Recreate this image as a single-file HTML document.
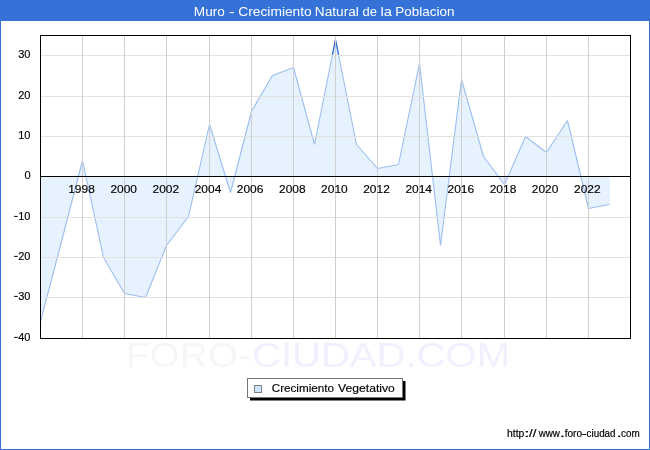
<!DOCTYPE html>
<html><head><meta charset="utf-8"><title>Muro - Crecimiento Natural de la Poblacion</title>
<style>
html,body{margin:0;padding:0;background:#fff;}
body{width:650px;height:450px;overflow:hidden;position:relative;font-family:"Liberation Sans",sans-serif;}
svg text{font-family:"Liberation Sans",sans-serif;}
</style></head><body>
<svg width="650" height="450" viewBox="0 0 650 450" style="position:absolute;left:0;top:0;display:block;will-change:transform;transform:translateZ(0)">
<rect x="0" y="0" width="650" height="450" fill="#ffffff"/>
<rect x="0" y="0" width="650" height="21" fill="#3472d8"/>
<rect x="0" y="0" width="1" height="450" fill="#3472d8"/>
<rect x="649" y="0" width="1" height="450" fill="#3472d8"/>
<rect x="0" y="449" width="650" height="1" fill="#3472d8"/>
<text x="125.82" y="367.3" font-size="35" textLength="124.90" lengthAdjust="spacingAndGlyphs" fill="#f6f6f8">FORO-</text>
<text x="251.97" y="367.3" font-size="35" textLength="258.02" lengthAdjust="spacingAndGlyphs" fill="#f0f0ff">CIUDAD.COM</text>
<clipPath id="cp"><rect x="40" y="35" width="591" height="304"/></clipPath>
<g clip-path="url(#cp)">
<path d="M40.50,176.50 L40.50,321.50 L61.50,241.50 L82.50,160.50 L103.50,257.50 L124.50,293.50 L145.50,297.50 L166.50,245.50 L188.50,216.50 L209.50,124.50 L230.50,192.50 L251.50,111.50 L272.50,75.50 L293.50,67.50 L314.50,144.50 L335.50,39.50 L356.50,144.50 L377.50,168.50 L398.50,164.50 L419.50,63.50 L440.50,245.50 L461.50,79.50 L483.50,156.50 L504.50,184.50 L525.50,136.50 L546.50,152.50 L567.50,120.50 L588.50,208.50 L609.50,204.50 L610.00,204.50 L610.00,176.50 Z" fill="#cfe6ff" fill-opacity="0.5" stroke="none"/>
<polyline points="40.50,321.50 61.50,241.50 82.50,160.50 103.50,257.50 124.50,293.50 145.50,297.50 166.50,245.50 188.50,216.50 209.50,124.50 230.50,192.50 251.50,111.50 272.50,75.50 293.50,67.50 314.50,144.50 335.50,39.50 356.50,144.50 377.50,168.50 398.50,164.50 419.50,63.50 440.50,245.50 461.50,79.50 483.50,156.50 504.50,184.50 525.50,136.50 546.50,152.50 567.50,120.50 588.50,208.50 609.50,204.50" fill="none" stroke="#9bbeee" stroke-width="1.1" stroke-linejoin="bevel"/>
</g>
<clipPath id="cp2"><rect x="40" y="36" width="591" height="19.5"/></clipPath>
<g clip-path="url(#cp2)"><polyline points="40.50,321.50 61.50,241.50 82.50,160.50 103.50,257.50 124.50,293.50 145.50,297.50 166.50,245.50 188.50,216.50 209.50,124.50 230.50,192.50 251.50,111.50 272.50,75.50 293.50,67.50 314.50,144.50 335.50,39.50 356.50,144.50 377.50,168.50 398.50,164.50 419.50,63.50 440.50,245.50 461.50,79.50 483.50,156.50 504.50,184.50 525.50,136.50 546.50,152.50 567.50,120.50 588.50,208.50 609.50,204.50" fill="none" stroke="#2f6fd6" stroke-width="1.2" stroke-linejoin="bevel"/></g>
<g shape-rendering="crispEdges">
<rect x="41" y="55" width="589" height="1" fill="#e1e1e1"/>
<rect x="41" y="96" width="589" height="1" fill="#e1e1e1"/>
<rect x="41" y="136" width="589" height="1" fill="#e1e1e1"/>
<rect x="41" y="217" width="589" height="1" fill="#e1e1e1"/>
<rect x="41" y="257" width="589" height="1" fill="#e1e1e1"/>
<rect x="41" y="297" width="589" height="1" fill="#e1e1e1"/>
<rect x="82" y="36" width="1" height="302" fill="#cfcfcf"/>
<rect x="124" y="36" width="1" height="302" fill="#cfcfcf"/>
<rect x="166" y="36" width="1" height="302" fill="#cfcfcf"/>
<rect x="209" y="36" width="1" height="302" fill="#cfcfcf"/>
<rect x="251" y="36" width="1" height="302" fill="#cfcfcf"/>
<rect x="293" y="36" width="1" height="302" fill="#cfcfcf"/>
<rect x="335" y="36" width="1" height="302" fill="#cfcfcf"/>
<rect x="377" y="36" width="1" height="302" fill="#cfcfcf"/>
<rect x="419" y="36" width="1" height="302" fill="#cfcfcf"/>
<rect x="461" y="36" width="1" height="302" fill="#cfcfcf"/>
<rect x="504" y="36" width="1" height="302" fill="#cfcfcf"/>
<rect x="546" y="36" width="1" height="302" fill="#cfcfcf"/>
<rect x="588" y="36" width="1" height="302" fill="#cfcfcf"/>
</g>
<g shape-rendering="crispEdges" fill="#000">
<rect x="40" y="35" width="591" height="1"/>
<rect x="40" y="338" width="591" height="1"/>
<rect x="40" y="35" width="1" height="304"/>
<rect x="630" y="35" width="1" height="304"/>
<rect x="40" y="176" width="591" height="1"/>
</g>
<g font-size="11" fill="#000" text-anchor="end" stroke="#000" stroke-width="0.15">
<text x="30.5" y="58.2">30</text>
<text x="30.5" y="99.2">20</text>
<text x="30.5" y="139.2">10</text>
<text x="30.5" y="179.2">0</text>
<text x="30.5" y="220.2">10</text>
<rect x="14.2" y="215.9" width="3.5" height="1" stroke="none"/>
<text x="30.5" y="260.2">20</text>
<rect x="14.2" y="255.9" width="3.5" height="1" stroke="none"/>
<text x="30.5" y="300.2">30</text>
<rect x="14.2" y="295.9" width="3.5" height="1" stroke="none"/>
<text x="30.5" y="341.2">40</text>
<rect x="14.2" y="336.9" width="3.5" height="1" stroke="none"/>
</g>
<g font-size="11" fill="#000" text-anchor="middle" stroke="#000" stroke-width="0.15">
<text x="81.5" y="193.2" textLength="26.6" lengthAdjust="spacingAndGlyphs">1998</text>
<text x="123.7" y="193.2" textLength="26.6" lengthAdjust="spacingAndGlyphs">2000</text>
<text x="165.8" y="193.2" textLength="26.6" lengthAdjust="spacingAndGlyphs">2002</text>
<text x="208.0" y="193.2" textLength="26.6" lengthAdjust="spacingAndGlyphs">2004</text>
<text x="250.1" y="193.2" textLength="26.6" lengthAdjust="spacingAndGlyphs">2006</text>
<text x="292.3" y="193.2" textLength="26.6" lengthAdjust="spacingAndGlyphs">2008</text>
<text x="334.4" y="193.2" textLength="26.6" lengthAdjust="spacingAndGlyphs">2010</text>
<text x="376.5" y="193.2" textLength="26.6" lengthAdjust="spacingAndGlyphs">2012</text>
<text x="418.7" y="193.2" textLength="26.6" lengthAdjust="spacingAndGlyphs">2014</text>
<text x="460.8" y="193.2" textLength="26.6" lengthAdjust="spacingAndGlyphs">2016</text>
<text x="503.0" y="193.2" textLength="26.6" lengthAdjust="spacingAndGlyphs">2018</text>
<text x="545.1" y="193.2" textLength="26.6" lengthAdjust="spacingAndGlyphs">2020</text>
<text x="587.3" y="193.2" textLength="26.6" lengthAdjust="spacingAndGlyphs">2022</text>
</g>
<text x="193.88" y="16" font-size="12.2" textLength="30.99" lengthAdjust="spacingAndGlyphs" fill="#fff">Muro</text>
<text x="228.80" y="16" font-size="12.2" textLength="6.00" lengthAdjust="spacingAndGlyphs" fill="#fff">-</text>
<text x="238.30" y="16" font-size="12.2" textLength="73.48" lengthAdjust="spacingAndGlyphs" fill="#fff">Crecimiento</text>
<text x="314.88" y="16" font-size="12.2" textLength="44.03" lengthAdjust="spacingAndGlyphs" fill="#fff">Natural</text>
<text x="362.46" y="16" font-size="12.2" textLength="14.42" lengthAdjust="spacingAndGlyphs" fill="#fff">de</text>
<text x="380.50" y="16" font-size="12.2" textLength="11.50" lengthAdjust="spacingAndGlyphs" fill="#fff">la</text>
<text x="395.39" y="16" font-size="12.2" textLength="59.18" lengthAdjust="spacingAndGlyphs" fill="#fff">Poblacion</text>
<rect x="250" y="381" width="155.5" height="19.5" fill="#000"/>
<rect x="247.5" y="378.5" width="155" height="19" fill="#fff" stroke="#757575" stroke-width="1" shape-rendering="crispEdges"/>
<rect x="254.5" y="385.5" width="7" height="7" fill="#cce6ff" stroke="#808080" stroke-width="1" shape-rendering="crispEdges"/>
<text x="271.71" y="391.7" font-size="11" textLength="62.28" lengthAdjust="spacingAndGlyphs" fill="#000" stroke="#000" stroke-width="0.15">Crecimiento</text>
<text x="338.05" y="391.7" font-size="11" textLength="56.76" lengthAdjust="spacingAndGlyphs" fill="#000" stroke="#000" stroke-width="0.15">Vegetativo</text>
<text x="507.08" y="436.6" font-size="11" textLength="17.25" lengthAdjust="spacingAndGlyphs" fill="#000" stroke="#000" stroke-width="0.2">http</text>
<text x="524.37" y="436.6" font-size="11" textLength="5.25" lengthAdjust="spacingAndGlyphs" fill="#000" stroke="#000" stroke-width="0.2">:</text>
<text x="529.00" y="436.6" font-size="11" textLength="7.30" lengthAdjust="spacingAndGlyphs" fill="#000" stroke="#000" stroke-width="0.2">//</text>
<text x="538.71" y="436.6" font-size="11" textLength="21.26" lengthAdjust="spacingAndGlyphs" fill="#000" stroke="#000" stroke-width="0.2">www</text>
<text x="559.77" y="436.6" font-size="11" textLength="5.25" lengthAdjust="spacingAndGlyphs" fill="#000" stroke="#000" stroke-width="0.2">.</text>
<text x="564.66" y="436.6" font-size="11" textLength="17.37" lengthAdjust="spacingAndGlyphs" fill="#000" stroke="#000" stroke-width="0.2">foro</text>
<text x="581.83" y="436.6" font-size="11" textLength="5.05" lengthAdjust="spacingAndGlyphs" fill="#000" stroke="#000" stroke-width="0.2">-</text>
<text x="586.58" y="436.6" font-size="11" textLength="28.95" lengthAdjust="spacingAndGlyphs" fill="#000" stroke="#000" stroke-width="0.2">ciudad</text>
<text x="616.57" y="436.6" font-size="11" textLength="5.25" lengthAdjust="spacingAndGlyphs" fill="#000" stroke="#000" stroke-width="0.2">.</text>
<text x="621.08" y="436.6" font-size="11" textLength="18.67" lengthAdjust="spacingAndGlyphs" fill="#000" stroke="#000" stroke-width="0.2">com</text>
</svg>
</body></html>
